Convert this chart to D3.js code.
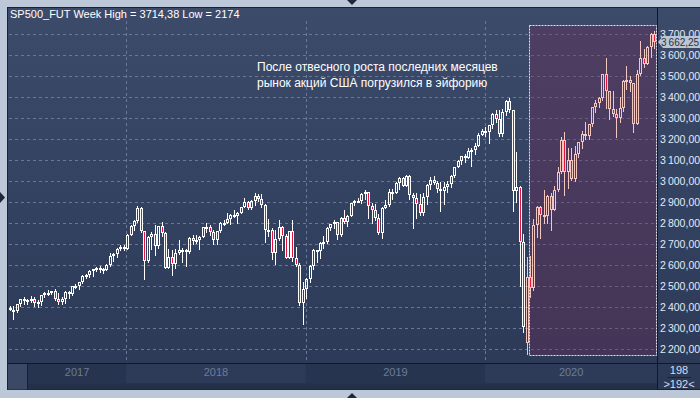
<!DOCTYPE html>
<html>
<head>
<meta charset="utf-8">
<script src="https://cdn.jsdelivr.net/npm/d3@7"></script>
<style>
  body { margin: 0; background: #bcc8d7; }
  svg { display: block; font-family: "Liberation Sans", Arial, sans-serif; }
</style>
</head>
<body>
<svg id="chart" width="700" height="398"></svg>
<script>
// weekly bars, first week starts Monday 8 May 2017
var firstWeek = new Date(2017, 4, 8);

var opens = [
  2396,2388,2380,2413,2438,2431,2432,2436,2419,2423,2456,2468,2469,2474,2440,2423,2440,2473,2460,2498,2500,2517,2547,2552,2573,2580,2587,2580,2577,2602,2642,2652,2676,2684,
  2676,2744,2788,2810,2873,2761,2620,2732,2747,2691,2786,2752,2588,2640,2604,2656,2670,2670,2663,2728,2713,2721,2735,2779,2780,2755,2718,2760,2801,2802,2819,2840,2833,2850,2875,2902,2872,2905,2930,2914,2885,2767,2768,2658,2723,2781,2736,2633,2760,2633,2600,2417,
  2486,2532,2596,2671,2665,2707,2708,2776,2793,2804,2743,2822,2803,2834,2893,2907,2905,2940,2946,2881,2860,2826,2752,2873,2887,2950,2942,2990,3014,2977,3026,2932,2919,2889,2847,2926,2979,3007,2992,2962,2952,2970,2986,3023,3067,3093,3120,3110,3141,3146,3169,3221,
  3240,3235,3265,3321,3295,3226,3328,3380,3338,2954,2972,2711,2230,2541,2489,2790,2875,2837,2831,2930,2864,2955,3044,3194,3041,3098,3009,3130,3185,3225,3216,3271,3351,3373,3397,3508,3427,3341,3319,3298,3348,3477,3483,3465,3270,3509,3585,3557,3638,3699
];
var highs = [
  2403,2404,2416,2440,2446,2440,2452,2450,2432,2458,2473,2481,2478,2488,2465,2448,2475,2475,2499,2508,2519,2552,2556,2574,2582,2591,2597,2588,2606,2656,2655,2679,2697,2694,
  2748,2790,2813,2879,2876,2763,2740,2755,2790,2788,2805,2757,2678,2672,2674,2718,2683,2676,2733,2743,2742,2737,2780,2801,2790,2765,2764,2804,2816,2848,2842,2864,2853,2876,2917,2906,2908,2941,2940,2940,2891,2817,2777,2766,2815,2786,2747,2763,2814,2686,2611,2520,
  2538,2598,2675,2673,2709,2739,2779,2795,2816,2807,2827,2862,2840,2894,2910,2918,2941,2955,2947,2893,2892,2841,2876,2911,2964,2960,2996,3017,3020,3029,3029,2944,2945,2940,2941,2985,3021,3022,3000,2993,2993,3000,3027,3069,3098,3121,3128,3155,3157,3183,3227,3249,
  3258,3267,3325,3337,3337,3341,3385,3397,3340,3137,2976,2746,2637,2641,2818,2880,2879,2955,2935,2945,2975,3068,3211,3233,3155,3155,3165,3186,3238,3279,3272,3352,3387,3399,3509,3588,3429,3429,3342,3398,3482,3549,3502,3465,3530,3668,3628,3644,3705,3714.38
];
var lows = [
  2385,2344,2378,2403,2413,2415,2425,2405,2402,2410,2450,2457,2460,2432,2416,2414,2417,2444,2456,2491,2488,2515,2540,2545,2546,2570,2565,2560,2577,2597,2617,2640,2673,2673,
  2675,2741,2768,2806,2757,2532,2612,2675,2647,2682,2740,2585,2586,2553,2586,2652,2612,2594,2655,2701,2705,2676,2735,2755,2741,2698,2698,2757,2790,2799,2795,2830,2802,2850,2874,2866,2865,2886,2903,2874,2710,2736,2628,2603,2717,2670,2631,2633,2621,2593,2408,2317,
  2443,2519,2581,2613,2631,2680,2703,2768,2774,2725,2737,2800,2785,2834,2884,2898,2897,2913,2826,2800,2816,2750,2728,2870,2880,2912,2942,2962,2975,2976,2914,2775,2823,2836,2840,2892,2964,2985,2946,2855,2892,2950,2973,3017,3066,3081,3092,3108,3071,3130,3167,3221,
  3213,3181,3253,3281,3214,3215,3315,3327,2855,2901,2500,2280,2174,2447,2483,2735,2727,2802,2798,2766,2860,2951,3038,2935,2965,3004,2999,3115,3155,3200,3200,3260,3327,3354,3387,3349,3294,3310,3209,3280,3331,3440,3430,3233,3270,3505,3543,3555,3590,3633
];
var closes = [
  2388,2380,2413,2438,2431,2432,2436,2419,2423,2456,2468,2469,2474,2440,2423,2440,2473,2460,2498,2500,2517,2547,2552,2573,2580,2587,2580,2577,2602,2642,2652,2676,2684,2676,
  2744,2788,2810,2873,2761,2620,2732,2747,2691,2786,2752,2588,2640,2604,2656,2670,2670,2663,2728,2713,2721,2735,2779,2780,2755,2718,2760,2801,2802,2819,2840,2833,2850,2875,2902,2872,2905,2930,2914,2885,2767,2768,2658,2723,2781,2736,2633,2760,2633,2600,2417,2486,
  2532,2596,2671,2665,2707,2708,2776,2793,2804,2743,2822,2803,2834,2893,2907,2905,2940,2946,2881,2860,2826,2752,2873,2887,2950,2942,2990,3014,2977,3026,2932,2919,2889,2847,2926,2979,3007,2992,2962,2952,2970,2986,3023,3067,3093,3120,3110,3141,3146,3169,3221,3240,
  3235,3265,3321,3295,3226,3328,3380,3338,2954,2972,2711,2305,2541,2489,2790,2875,2837,2831,2930,2864,2955,3044,3194,3041,3098,3009,3130,3185,3225,3216,3271,3351,3373,3397,3508,3427,3341,3319,3298,3348,3477,3483,3465,3270,3509,3585,3557,3638,3699,3662.25
];

var yTickValues = [2200,2300,2400,2500,2600,2700,2800,2900,3000,3100,3200,3300,3400,3500,3600,3700];
var yearLabels = ["2017","2018","2019","2020"];
var yearStarts = [new Date(2018,0,1), new Date(2019,0,1), new Date(2020,0,1)];

var titleText = "SP500_FUT Week High = 3714,38 Low = 2174";
var noteLines = ["После отвесного роста последних месяцев", "рынок акций США погрузился в эйфорию"];
var highlightFrom = new Date(2020, 2, 30), highlightTo = new Date(2020, 11, 13);
var highlightLow = 2170, highlightHigh = 3745;
var barCount = "198", barVisible = ">192<";

var panel = {left: 8, top: 8, right: 700, bottom: 390},
    plotRight = 657, plotBottom = 363;

var weekDates = d3.range(closes.length).map(function(i){ return d3.timeDay.offset(firstWeek, 7 * i + 2); });
var lastClose = closes[closes.length - 1];

var x = d3.scaleTime()
    .domain([weekDates[0], weekDates[weekDates.length - 1]])
    .range([10, 654]);

var y = d3.scaleLinear()
    .domain([2200, 3700])
    .range([349, 34]);

// thin space as thousands separator, comma decimals
var ru = d3.formatLocale({decimal: ",", thousands: "\u2009", grouping: [3], currency: ["", ""]});
var priceFmt = ru.format(",.2f");

var svg = d3.select("#chart");

var defs = svg.append("defs");
var grad = defs.append("linearGradient").attr("id", "bg").attr("x1", 0).attr("y1", 0).attr("x2", 0).attr("y2", 1);
grad.append("stop").attr("offset", "0%").attr("stop-color", "#3d4b6b");
grad.append("stop").attr("offset", "100%").attr("stop-color", "#2b3957");

// frame
svg.append("rect")
    .attr("x", panel.left - 0.5).attr("y", panel.top - 0.5)
    .attr("width", panel.right - panel.left + 1).attr("height", panel.bottom - panel.top)
    .attr("fill", "url(#bg)")
    .attr("stroke", "#1a2233");

// time axis band
var bandY = plotBottom + 1, bandH = panel.bottom - plotBottom - 1.5;
svg.append("rect").attr("x", panel.left).attr("y", bandY).attr("width", 19).attr("height", bandH).attr("fill", "#3c4966");
svg.append("line").attr("x1", 27.5).attr("x2", 27.5).attr("y1", bandY).attr("y2", bandY + bandH).attr("stroke", "#18202f");

var bandEdges = [28].concat(yearStarts.map(function(d){ return x(d); })).concat([plotRight]);
var bands = svg.append("g").attr("class", "year-bands");
yearLabels.forEach(function(lbl, i){
  var x0 = bandEdges[i], x1 = bandEdges[i + 1];
  bands.append("rect")
      .attr("x", x0).attr("y", bandY)
      .attr("width", x1 - x0).attr("height", bandH - 6)
      .attr("fill", i % 2 ? "#2d3b59" : "#27344f");
  bands.append("rect")
      .attr("x", x0).attr("y", bandY + bandH - 6)
      .attr("width", x1 - x0).attr("height", 6)
      .attr("fill", "#243049");
  bands.append("text")
      .attr("x", (x0 + x1) / 2).attr("y", bandY + 12)
      .attr("text-anchor", "middle")
      .attr("font-size", 11)
      .attr("fill", "#6c7b98")
      .text(lbl);
});

// grid
var grid = svg.append("g").attr("class", "grid");
grid.selectAll(".h")
  .data(yTickValues)
  .enter().append("line")
    .attr("x1", panel.left + 1).attr("x2", plotRight)
    .attr("y1", function(d){ return Math.round(y(d)) + 0.5; })
    .attr("y2", function(d){ return Math.round(y(d)) + 0.5; })
    .attr("stroke", "#6a7896")
    .attr("stroke-dasharray", "3,3");
grid.selectAll(".v")
  .data(yearStarts)
  .enter().append("line")
    .attr("x1", function(d){ return Math.round(x(d)) + 0.5; })
    .attr("x2", function(d){ return Math.round(x(d)) + 0.5; })
    .attr("y1", 21).attr("y2", plotBottom)
    .attr("stroke", "#6a7896")
    .attr("stroke-dasharray", "3,3");

// highlighted period
var hx0 = Math.round(x(highlightFrom)) + 0.5, hx1 = Math.round(x(highlightTo)) + 0.5;
var hy0 = Math.round(y(highlightHigh)) + 0.5, hy1 = Math.round(y(highlightLow)) + 0.5;
svg.append("rect")
    .attr("x", hx0).attr("y", hy0)
    .attr("width", hx1 - hx0).attr("height", hy1 - hy0)
    .attr("fill", "rgba(112,42,84,0.36)")
    .attr("stroke", "#e6e2ee")
    .attr("stroke-dasharray", "2,1");

// candles
var inHighlight = function(d){ return d >= d3.timeDay.offset(highlightFrom, -7); };
var candles = svg.append("g").attr("class", "candles");
weekDates.forEach(function(d, i){
  var o = opens[i], h = highs[i], l = lows[i], c = closes[i];
  var cx = Math.round(x(d));
  var top = Math.round(y(Math.max(o, c))), bot = Math.round(y(Math.min(o, c)));
  if (bot - top < 2) bot = top + 2;
  var col = inHighlight(d) ? "#f3c7bf" : "#ffffff";
  var g = candles.append("g");
  g.append("line")
      .attr("x1", cx + 0.5).attr("x2", cx + 0.5)
      .attr("y1", Math.round(y(h))).attr("y2", top)
      .attr("stroke", col);
  g.append("line")
      .attr("x1", cx + 0.5).attr("x2", cx + 0.5)
      .attr("y1", bot).attr("y2", Math.round(y(l)) + 1)
      .attr("stroke", col);
  g.append("rect")
      .attr("x", cx - 0.5).attr("y", top + 0.5)
      .attr("width", 2).attr("height", bot - top - 1)
      .attr("fill", c < o ? "#e3133d" : "none")
      .attr("stroke", col);
});

// right axis panel
svg.append("line")
    .attr("x1", plotRight + 0.5).attr("x2", plotRight + 0.5)
    .attr("y1", panel.top).attr("y2", panel.bottom)
    .attr("stroke", "#10172a");
svg.append("line")
    .attr("x1", panel.left).attr("x2", panel.right)
    .attr("y1", plotBottom + 0.5).attr("y2", plotBottom + 0.5)
    .attr("stroke", "#10172a");

var yAxis = d3.axisRight(y)
    .tickValues(yTickValues)
    .tickSize(0)
    .tickPadding(3)
    .tickFormat(priceFmt);

svg.append("g")
    .attr("class", "y axis")
    .attr("transform", "translate(" + plotRight + ",0)")
    .call(yAxis)
    .call(function(g){ g.select(".domain").remove(); })
    .selectAll("text")
      .attr("font-size", 10.5)
      .attr("font-family", "\"Liberation Sans\", Arial, sans-serif")
      .attr("fill", "#e2eaf6");

// last price marker
var ly = Math.round(y(lastClose));
svg.append("path")
    .attr("d", "M" + (plotRight + 1) + "," + ly + "L" + (plotRight + 6) + "," + (ly - 6) + "H700V" + (ly + 6) + "H" + (plotRight + 6) + "Z")
    .attr("fill", "#bcc5d2");
svg.append("text")
    .attr("x", plotRight + 4).attr("y", ly + 4)
    .attr("font-size", 10)
    .attr("fill", "#25324e")
    .text(priceFmt(lastClose));

// bar counter
svg.append("text").attr("x", 679).attr("y", 374).attr("text-anchor", "middle").attr("font-size", 11).attr("fill", "#d6deea").text(barCount);
svg.append("line").attr("x1", 667).attr("x2", 691).attr("y1", 377.5).attr("y2", 377.5).attr("stroke", "#1b2438");
svg.append("text").attr("x", 679).attr("y", 388).attr("text-anchor", "middle").attr("font-size", 11).attr("fill", "#d6deea").text(barVisible);

// title and note
svg.append("text")
    .attr("x", 10).attr("y", 18)
    .attr("font-size", 11)
    .attr("fill", "#ffffff")
    .text(titleText);

svg.append("g").attr("class", "note")
  .selectAll("text")
  .data(noteLines)
  .enter().append("text")
    .attr("x", 257)
    .attr("y", function(d, i){ return 71 + i * 16; })
    .attr("font-size", 12)
    .attr("fill", "#ffffff")
    .text(function(d){ return d; });

// scroll arrows on the frame
svg.append("path").attr("d", "M347,0H357L352,5Z").attr("fill", "#1e273b");
svg.append("path").attr("d", "M347,398H357L352,393Z").attr("fill", "#1e273b");
svg.append("path").attr("d", "M0,192V203L5,197.5Z").attr("fill", "#1e273b");
</script>
</body>
</html>
